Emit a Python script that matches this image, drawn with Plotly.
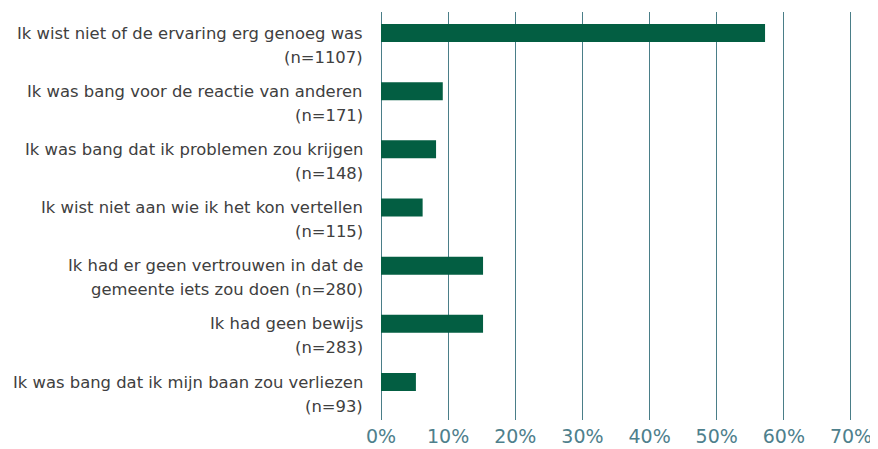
import plotly.graph_objects as go

line1 = [
    "Ik wist niet of de ervaring erg genoeg was",
    "Ik was bang voor de reactie van anderen",
    "Ik was bang dat ik problemen zou krijgen",
    "Ik wist niet aan wie ik het kon vertellen",
    "Ik had er geen vertrouwen in dat de",
    "Ik had geen bewijs",
    "Ik was bang dat ik mijn baan zou verliezen",
]
line2 = [
    "(n=1107)",
    "(n=171)",
    "(n=148)",
    "(n=115)",
    "gemeente iets zou doen (n=280)",
    "(n=283)",
    "(n=93)",
]
values = [57.2, 9.2, 8.2, 6.2, 15.2, 15.2, 5.2]
x_ticks = [0, 10, 20, 30, 40, 50, 60, 70]
x_ticktext = ["0%", "10%", "20%", "30%", "40%", "50%", "60%", "70%"]

categories = [a + " " + b for a, b in zip(line1, line2)]

BAR = "#035E42"
GRID = "#4A7E88"
TEXT = "#404040"
FONT = "DejaVu Sans"

fig = go.Figure(
    go.Bar(
        x=values,
        y=categories,
        orientation="h",
        marker=dict(color=BAR, line=dict(width=0)),
        width=0.31,
        hoverinfo="skip",
    )
)

annotations = []
for cat, a, b in zip(categories, line1, line2):
    annotations.append(dict(
        x=0, xref="paper", y=cat, yref="y", text=a, showarrow=False,
        xanchor="right", yanchor="middle", xshift=-16, yshift=0,
        font=dict(family=FONT, size=16.4, color=TEXT),
    ))
    annotations.append(dict(
        x=0, xref="paper", y=cat, yref="y", text=b, showarrow=False,
        xanchor="right", yanchor="middle", xshift=-16, yshift=-24,
        font=dict(family=FONT, size=16.4, color=TEXT),
    ))

fig.update_layout(
    width=870,
    height=441,
    margin=dict(l=373, r=25, t=4, b=29, autoexpand=False),
    plot_bgcolor="white",
    paper_bgcolor="white",
    showlegend=False,
    annotations=annotations,
    xaxis=dict(
        range=[0, 70.3],
        tickvals=x_ticks,
        ticktext=x_ticktext,
        showgrid=True,
        gridcolor=GRID,
        gridwidth=1.3,
        zeroline=True,
        zerolinecolor=GRID,
        zerolinewidth=1.3,
        showline=False,
        ticks="",
        ticklabelstandoff=3,
        automargin=False,
        tickfont=dict(family=FONT, size=19, color="#4E808C"),
        fixedrange=True,
    ),
    yaxis=dict(
        type="category",
        categoryorder="array",
        categoryarray=categories,
        range=[6.653, -0.361],
        showticklabels=False,
        showgrid=False,
        zeroline=False,
        ticks="",
        automargin=False,
        fixedrange=True,
    ),
)

fig.write_html("out.html")
